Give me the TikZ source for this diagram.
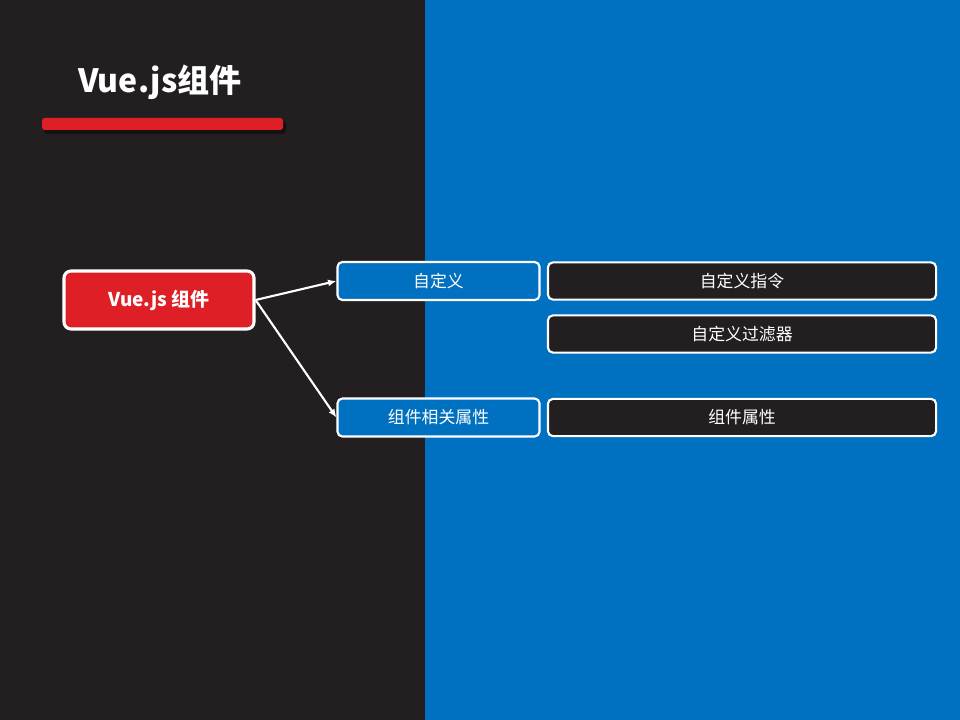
\documentclass[tikz,border=0pt]{standalone}
\usepackage{fontspec}
\setmainfont{Noto Sans CJK SC}
\usepackage{xcolor}
\usetikzlibrary{arrows.meta}
\definecolor{darkbg}{HTML}{231F20}
\definecolor{bluebg}{HTML}{0070C0}
\definecolor{vuered}{HTML}{DF1F26}
\tikzset{
  rootbox/.style={draw=white, line width=2.2pt, fill=vuered, rounded corners=5pt,
    minimum width=4.75cm, minimum height=1.45cm, text=white, font=\bfseries\fontsize{13.5}{16}\selectfont},
  groupbox/.style={draw=white, line width=1.5pt, fill=bluebg, rounded corners=3.5pt,
    minimum width=5.05cm, minimum height=0.95cm, text=white, font=\fontsize{12}{14}\selectfont},
  leafbox/.style={draw=white, line width=1.5pt, fill=darkbg, rounded corners=3.5pt,
    minimum width=9.7cm, minimum height=0.93cm, text=white, font=\fontsize{12}{14}\selectfont},
  link/.style={draw=white, line width=1.5pt, -{Latex[length=6pt,width=5pt]}}
}

\begin{document}
\begin{tikzpicture}[x=0.025cm, y=-0.025cm]
\useasboundingbox (0,0) rectangle (960,720);
\fill[darkbg] (0,0) rectangle (425,720);
\fill[bluebg] (425,0) rectangle (960,720);
% title and bar
\node[text=white, font=\bfseries\fontsize{22.8}{26}\selectfont] (title) at (160,82) {Vue.js组件};
\fill[black, opacity=0.45, rounded corners=2pt] (44,121) rectangle (286,134);
\fill[vuered, rounded corners=2pt] (42,118) rectangle (283,130);
% nodes
\node[rootbox] (vue) at (159,300) {Vue.js 组件};
\node[groupbox] (custom) at (438.5,281) {自定义};
\node[groupbox] (props) at (438.5,417.5) {组件相关属性};
\node[leafbox] (directive) at (742,281) {自定义指令};
\node[leafbox] (filter) at (742,334) {自定义过滤器};
\node[leafbox] (attrs) at (742,417.5) {组件属性};
% links
\draw[link] (vue.east) -- (custom.west);
\draw[link] (vue.east) -- (props.west);
\end{tikzpicture}
\end{document}
